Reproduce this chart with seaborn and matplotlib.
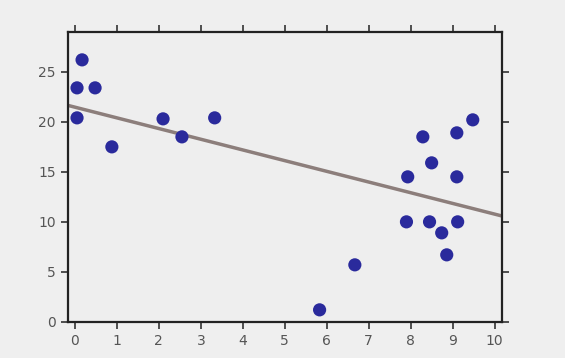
import matplotlib
matplotlib.use("Agg")
import matplotlib.pyplot as plt
import seaborn as sns
import pandas as pd

# Observations
x_values = [0.17, 0.05, 0.48, 0.05, 0.88, 2.10, 2.55, 3.33, 5.83, 6.67, 7.93,
            8.29, 8.50, 9.10, 9.48, 9.10, 7.90, 8.45, 9.12, 8.74, 8.86]
y_values = [26.2, 23.4, 23.4, 20.4, 17.5, 20.3, 18.5, 20.4, 1.2, 5.7, 14.5,
            18.5, 15.9, 18.9, 20.2, 14.5, 10.0, 10.0, 10.0, 8.9, 6.7]
x_ticks = list(range(0, 11))
y_ticks = [0, 5, 10, 15, 20, 25]

df = pd.DataFrame({"x": x_values, "y": y_values})

sns.set_theme(style="ticks")
plt.rcParams["font.family"] = ["DejaVu Sans"]

fig = plt.figure(figsize=(5.65, 3.58), dpi=100, facecolor="#efefef")
ax = fig.add_axes([0.120, 0.101, 0.768, 0.810])
ax.set_facecolor("#eeeeee")
ax.set_xlim(-0.17, 10.17)
ax.set_ylim(0, 29)

sns.regplot(data=df, x="x", y="y", ax=ax, ci=None, truncate=False,
            scatter_kws=dict(s=90, color="#2a2a9c", edgecolor="none", alpha=1, zorder=3),
            line_kws=dict(color="#8c7e7b", lw=2.5, zorder=2))

ax.set_xlim(-0.17, 10.17)
ax.set_ylim(0, 29)
ax.set_xticks(x_ticks)
ax.set_yticks(y_ticks)
ax.set_xlabel("")
ax.set_ylabel("")
for side in ["top", "bottom", "left", "right"]:
    ax.spines[side].set_visible(True)
    ax.spines[side].set_color("#222222")
    ax.spines[side].set_linewidth(1.6)
ax.tick_params(direction="out", length=5, width=1.2, color="#333333",
               top=True, right=True, labeltop=False, labelright=False,
               labelsize=10, labelcolor="#555555")

fig.savefig("out.png", dpi=100, facecolor=fig.get_facecolor())
